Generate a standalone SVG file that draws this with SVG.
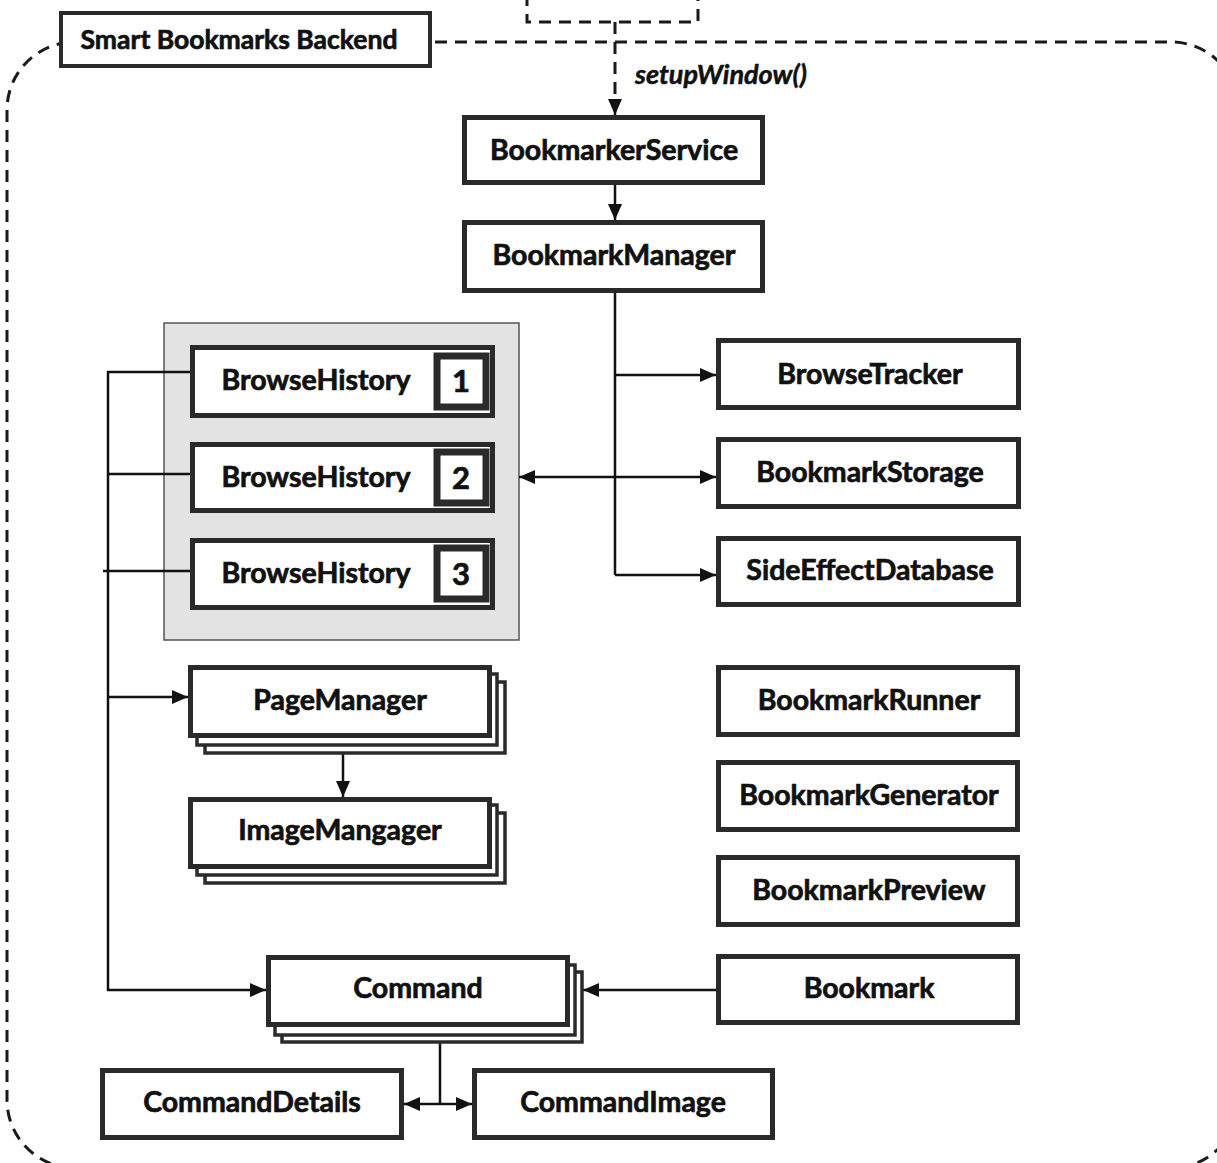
<svg xmlns="http://www.w3.org/2000/svg" width="1217" height="1163" viewBox="0 0 1217 1163">
  <style>
    .box { fill: #ffffff; stroke: #2a2a2a; stroke-width: 5; }
    .back { fill: #ffffff; stroke: #2a2a2a; stroke-width: 3.5; }
    .lbl { font-family: Lato, "Liberation Sans", sans-serif; font-weight: 700; font-size: 28.5px; fill: #111; stroke: #111; stroke-width: 0.7; text-anchor: middle; }
    .title { font-size: 26.5px; }
    .num { font-family: Lato, "Liberation Sans", sans-serif; font-weight: 700; font-size: 31px; fill: #111; stroke: #111; stroke-width: 0.7; text-anchor: middle; }
    .wire { fill: none; stroke: #111; stroke-width: 2.5; }
    .dash { fill: none; stroke: #1a1a1a; stroke-width: 3; stroke-dasharray: 12 8; }
  </style>
  <defs>
    <marker id="arrow" markerUnits="userSpaceOnUse" markerWidth="16" markerHeight="14" refX="16" refY="7" orient="auto-start-reverse">
      <path d="M0,0 L16,7 L0,14 z" fill="#111"/>
    </marker>
  </defs>

  <rect width="1217" height="1163" fill="#ffffff"/>

  <!-- system boundary and external caller -->
  <g id="boundary">
    <rect class="dash" x="7" y="42" width="1232" height="1126" rx="68" ry="68"/>
    <path class="dash" d="M527,-6 V22 H698 V-6"/>
  </g>

  <g id="backend-title">
    <rect x="61" y="13" width="369" height="53" fill="#ffffff" stroke="#2a2a2a" stroke-width="4"/>
    <text class="lbl title" x="239" y="49">Smart Bookmarks Backend</text>
  </g>

  <!-- browse history group background, under the wires that cross it -->
  <g id="browse-history-group">
    <rect x="164" y="323" width="355" height="317" fill="#e3e3e3" stroke="#555" stroke-width="1.5"/>
  </g>

  <!-- connectors -->
  <g id="connectors">
    <path class="dash" d="M615,22 V102" stroke-dasharray="10 7"/>
    <path class="wire" d="M615,100 V115" marker-end="url(#arrow)"/>
    <text x="635" y="84" font-family="Lato, 'Liberation Sans', sans-serif" font-weight="700" font-style="italic" font-size="27" fill="#111" stroke="#111" stroke-width="0.5">setupWindow()</text>

    <path class="wire" d="M615,185 V220" marker-end="url(#arrow)"/>
    <path class="wire" d="M615,293 V575"/>
    <path class="wire" d="M615,375 H716" marker-end="url(#arrow)"/>
    <path class="wire" d="M615,575 H716" marker-end="url(#arrow)"/>
    <path class="wire" d="M519,477 H716" marker-start="url(#arrow)" marker-end="url(#arrow)"/>

    <path class="wire" d="M192,372 H108 V990 H266" marker-end="url(#arrow)"/>
    <path class="wire" d="M108,474 H192"/>
    <path class="wire" d="M103,571 H190"/>
    <path class="wire" d="M108,697 H188" marker-end="url(#arrow)"/>

    <path class="wire" d="M343,740 V797" marker-end="url(#arrow)"/>
    <path class="wire" d="M716,990 H583" marker-end="url(#arrow)"/>
    <path class="wire" d="M440,1043 V1104"/>
    <path class="wire" d="M404,1104 H472" marker-start="url(#arrow)" marker-end="url(#arrow)"/>
  </g>

  <g id="bookmarker-service">
    <rect class="box" x="464.5" y="117.5" width="298" height="65"/>
    <text class="lbl" x="614" y="160">BookmarkerService</text>
  </g>
  <g id="bookmark-manager">
    <rect class="box" x="464.5" y="222.5" width="298" height="68"/>
    <text class="lbl" x="614" y="265">BookmarkManager</text>
  </g>

  <g id="browse-history-1">
    <rect class="box" x="192.5" y="347.5" width="300" height="68"/>
    <rect x="437" y="356" width="49" height="51" fill="#fff" stroke="#2a2a2a" stroke-width="7"/>
    <text class="lbl" x="316" y="390">BrowseHistory</text>
    <text class="num" x="461" y="392">1</text>
  </g>
  <g id="browse-history-2">
    <rect class="box" x="192.5" y="444.5" width="300" height="66"/>
    <rect x="437" y="452" width="49" height="51" fill="#fff" stroke="#2a2a2a" stroke-width="7"/>
    <text class="lbl" x="316" y="487">BrowseHistory</text>
    <text class="num" x="461" y="489">2</text>
  </g>
  <g id="browse-history-3">
    <rect class="box" x="192.5" y="540.5" width="300" height="67"/>
    <rect x="437" y="548" width="49" height="51" fill="#fff" stroke="#2a2a2a" stroke-width="7"/>
    <text class="lbl" x="316" y="583">BrowseHistory</text>
    <text class="num" x="461" y="585">3</text>
  </g>

  <g id="browse-tracker">
    <rect class="box" x="718.5" y="340.5" width="300" height="67"/>
    <text class="lbl" x="870" y="384">BrowseTracker</text>
  </g>
  <g id="bookmark-storage">
    <rect class="box" x="718.5" y="439.5" width="300" height="67"/>
    <text class="lbl" x="870" y="482">BookmarkStorage</text>
  </g>
  <g id="side-effect-database">
    <rect class="box" x="718.5" y="538.5" width="300" height="66"/>
    <text class="lbl" x="870" y="580">SideEffectDatabase</text>
  </g>

  <g id="page-manager">
    <rect class="back" x="205" y="682" width="300" height="71"/>
    <rect class="back" x="197" y="674" width="300" height="71"/>
    <rect class="box" x="190.5" y="667.5" width="299" height="68"/>
    <text class="lbl" x="340" y="710">PageManager</text>
  </g>
  <g id="image-manager">
    <rect class="back" x="205" y="813" width="300" height="70"/>
    <rect class="back" x="197" y="805" width="300" height="70"/>
    <rect class="box" x="190.5" y="799.5" width="299" height="67"/>
    <text class="lbl" x="340" y="840">ImageMangager</text>
  </g>

  <g id="bookmark-runner">
    <rect class="box" x="718.5" y="667.5" width="299" height="67"/>
    <text class="lbl" x="869" y="710">BookmarkRunner</text>
  </g>
  <g id="bookmark-generator">
    <rect class="box" x="718.5" y="762.5" width="299" height="67"/>
    <text class="lbl" x="869" y="805">BookmarkGenerator</text>
  </g>
  <g id="bookmark-preview">
    <rect class="box" x="718.5" y="857.5" width="299" height="67"/>
    <text class="lbl" x="869" y="900">BookmarkPreview</text>
  </g>
  <g id="bookmark">
    <rect class="box" x="718.5" y="956.5" width="299" height="66"/>
    <text class="lbl" x="869" y="998">Bookmark</text>
  </g>

  <g id="command">
    <rect class="back" x="282" y="972" width="300" height="70"/>
    <rect class="back" x="275" y="965" width="300" height="70"/>
    <rect class="box" x="268.5" y="957.5" width="299" height="67"/>
    <text class="lbl" x="418" y="998">Command</text>
  </g>

  <g id="command-details">
    <rect class="box" x="102.5" y="1070.5" width="299" height="67"/>
    <text class="lbl" x="252" y="1112">CommandDetails</text>
  </g>
  <g id="command-image">
    <rect class="box" x="474.5" y="1070.5" width="298" height="67"/>
    <text class="lbl" x="623" y="1112">CommandImage</text>
  </g>
</svg>
